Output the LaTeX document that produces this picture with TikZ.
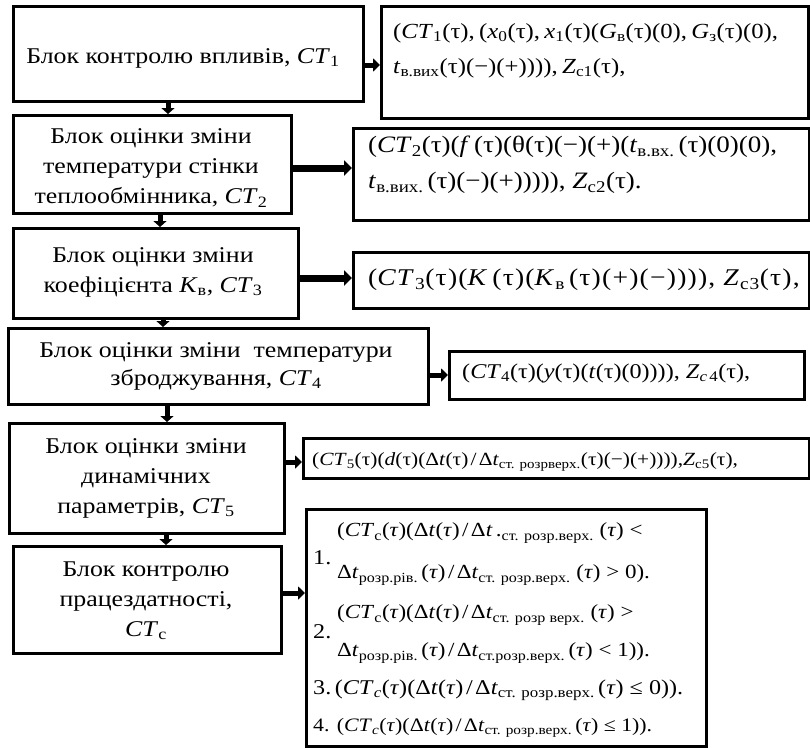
\documentclass[tikz,border=0pt]{standalone}
\usepackage{fontspec}
\setmainfont{Liberation Serif}[FakeStretch=1.15]
\usetikzlibrary{arrows.meta}

% formula helpers
\newcommand\sbs[1]{\textsubscript{#1}}
\newcommand\ti{\textit{τ}}
\newcommand\dv{\kern.12em/\kern.12em}
\newcommand\CT{\textit{CT}}

\begin{document}
\begin{tikzpicture}[x=1pt,y=-1pt,
  box/.style={draw=black, line width=3pt, anchor=north west, inner sep=0pt},
  lt/.style={align=center, inner sep=0pt, font=\fontsize{22.5}{30}\selectfont},
  ft/.style={anchor=west, inner sep=0pt, font=\fontsize{23.5}{28}\selectfont},
  fs/.style={anchor=west, inner sep=0pt, font=\fontsize{21}{24}\selectfont},
  fc/.style={anchor=west, inner sep=0pt, font=\fontsize{20}{24}\selectfont},
  varr/.style={line width=5pt, -{Triangle[length=6pt,width=13pt]}},
  harr/.style={line width=5pt, -{Triangle[length=7pt,width=13pt]}},
  hbig/.style={line width=7pt, -{Triangle[length=8pt,width=15pt]}}]
\useasboundingbox (0,0) rectangle (810,747);

% left column: processing blocks
\node[box, minimum width=350pt, minimum height=95pt]  (b1) at (12,5)   {};
\node[box, minimum width=278pt, minimum height=98pt]  (b2) at (12,114) {};
\node[box, minimum width=285pt, minimum height=90pt]  (b3) at (12,227) {};
\node[box, minimum width=420pt, minimum height=76pt]  (b4) at (7,327)  {};
\node[box, minimum width=275pt, minimum height=110pt] (b5) at (8,422)  {};
\node[box, minimum width=268pt, minimum height=107pt] (b6) at (12,545) {};

\node[lt] (t1) at (183,58)  {Блок контролю впливів, \CT\sbs{1}};
\node[lt] (t2) at (151,168) {Блок оцінки зміни\\температури стінки\\теплообмінника, \CT\sbs{2}};
\node[lt] (t3) at (153,272) {Блок оцінки зміни\\коефіцієнта \textit{K}\sbs{в}, \CT\sbs{3}};
\node[lt, font=\fontsize{22.5}{28}\selectfont] (t4) at (216,366) {Блок оцінки зміни\ \ температури\\зброджування, \CT\sbs{4}};
\node[lt] (t5) at (146,478) {Блок оцінки зміни\\динамічних\\параметрів, \CT\sbs{5}};
\node[lt] (t6) at (146,601) {Блок контролю\\працездатності,\\\CT\sbs{с}};

% right column: state expressions
\node[box, minimum width=427pt, minimum height=112pt] (r1) at (380,5)   {};
\node[box, minimum width=456pt, minimum height=92pt]  (r2) at (352,127) {};
\node[box, minimum width=456pt, minimum height=56pt]  (r3) at (352,251) {};
\node[box, minimum width=355pt, minimum height=48pt]  (r4) at (448,350) {};
\node[box, minimum width=506pt, minimum height=40pt]  (r5) at (302,437) {};
\node[box, minimum width=400pt, minimum height=237pt] (r6) at (305,508) {};

\node[ft, font=\fontsize{21.5}{28}\selectfont] (r1a) at (393,33) {(\CT\sbs{1}(τ),\kern.2em(\textit{x}\sbs{0}(τ),\kern.2em\textit{x}\sbs{1}(τ)(\textit{G}\sbs{в}(τ)(0),\kern.2em\textit{G}\sbs{з}(τ)(0),};
\node[ft, font=\fontsize{21.5}{28}\selectfont] (r1b) at (393,68) {\textit{t}\sbs{в.вих}(τ)(−)(+)))),\kern.2em\textit{Z}\sbs{с1}(τ),};
\node[ft] (r2a) at (368,147) {(\CT\sbs{2}(τ)(\textit{f}\,(τ)(θ(τ)(−)(+)(\textit{t}\sbs{в.вх.}\,(τ)(0)(0),};
\node[ft] (r2b) at (368,183) {\textit{t}\sbs{в.вих.}\,(τ)(−)(+))))), \textit{Z}\sbs{с2}(τ).};
\node[ft, font=\fontsize{24}{28}\selectfont\addfontfeature{LetterSpace=5}] (r3a) at (368,280) {(\CT\sbs{3}(τ)(\textit{K}\,(τ)(\textit{K}\sbs{в}\,(τ)(+)(−)))), \textit{Z}\sbs{с3}(τ),};
\node[fs] (r4a) at (462,373) {(\CT\sbs{4}(τ)(\textit{y}(τ)(\textit{t}(τ)(0)))), \textit{Z}\sbs{\textit{c}\,4}(τ),};
\node[fs, font=\fontsize{18.6}{24}\selectfont] (r5a) at (312,462) {(\CT\sbs{5}(τ)(\textit{d}(τ)(Δ\textit{t}(τ)\dv Δ\textit{t}\sbs{ст. розрверх.}(τ)(−)(+)))),\textit{Z}\sbs{с5}(τ),};

\node[fc, font=\fontsize{21}{24}\selectfont] (n1)  at (313,558) {1.};
\node[fc] (r6a) at (337,533) {(\CT\sbs{с}(\ti)(Δ\textit{t}(\ti)\dv Δ\textit{t}\,.\sbs{ст. розр.верх.}\ (\ti) <};
\node[fc] (r6b) at (337,575) {Δ\textit{t}\sbs{розр.рів.}\,(\ti)\dv Δ\textit{t}\sbs{ст. розр.верх.}\ (\ti) > 0).};
\node[fc, font=\fontsize{21}{24}\selectfont] (n2)  at (313,632) {2.};
\node[fc] (r6c) at (337,615) {(\CT\sbs{с}(\ti)(Δ\textit{t}(\ti)\dv Δ\textit{t}\sbs{ст. розр верх.}\ (\ti) >};
\node[fc] (r6d) at (337,653) {Δ\textit{t}\sbs{розр.рів.}\,(\ti)\dv Δ\textit{t}\sbs{ст.розр.верх.}\,(\ti) < 1)).};
\node[fc, font=\fontsize{21}{24}\selectfont] (r6e) at (313,690) {3.\,(\CT\sbs{\textit{c}}(\ti)(Δ\textit{t}(\ti)\dv Δ\textit{t}\sbs{ст. розр.верх.}\,(\ti) ≤ 0)).};
\node[fc, font=\fontsize{19}{24}\selectfont] (r6f) at (313,728) {4. (\CT\sbs{\textit{c}}(\ti)(Δ\textit{t}(\ti)\dv Δ\textit{t}\sbs{ст. розр.верх.}\,(\ti) ≤ 1)).};

% flow down the left column
\draw[varr] (b1.south -| 168,0) -- (b2.north -| 168,0);
\draw[varr] (b2.south -| 160,0) -- (b3.north -| 160,0);
\draw[varr] (b3.south -| 163,0) -- (b4.north -| 163,0);
\draw[varr] (b4.south -| 167,0) -- (b5.north -| 167,0);
\draw[varr] (b5.south -| 166,0) -- (b6.north -| 166,0);

% outputs to the right column
\draw[harr] (b1.east |- 0,65)  -- (r1.west |- 0,65);
\draw[hbig] (b2.east |- 0,168) -- (r2.west |- 0,168);
\draw[hbig] (b3.east |- 0,278) -- (r3.west |- 0,278);
\draw[harr] (b4.east |- 0,375) -- (r4.west |- 0,375);
\draw[harr] (b5.east |- 0,462) -- (r5.west |- 0,462);
\draw[harr] (b6.east |- 0,593) -- (r6.west |- 0,593);
\end{tikzpicture}
\end{document}
